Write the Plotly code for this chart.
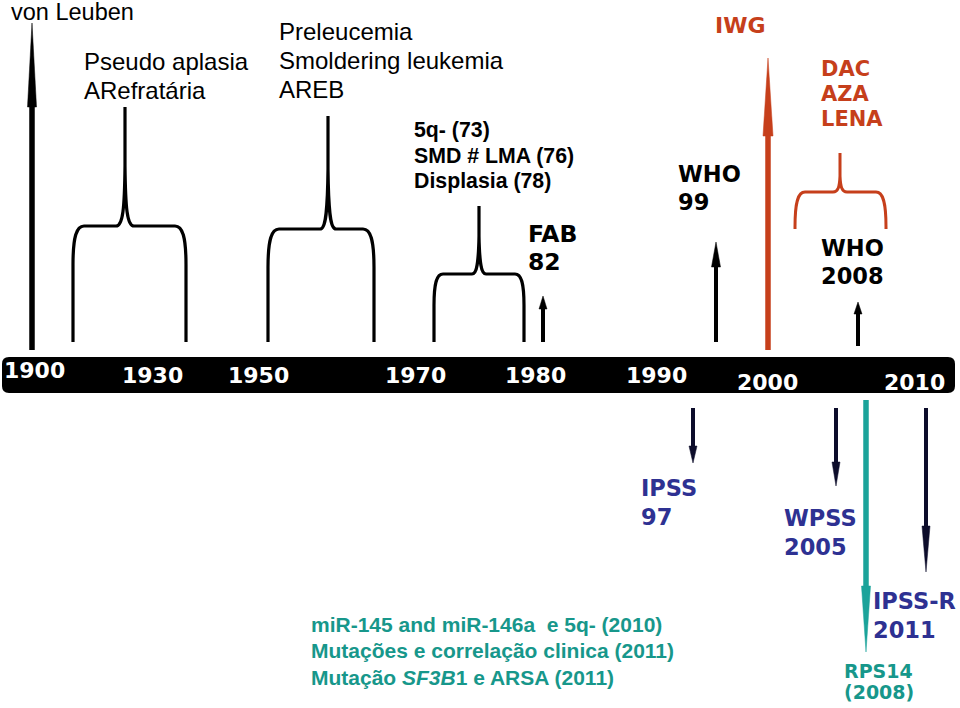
import plotly.graph_objects as go

# ---------------- data ----------------
timeline_years = ["1900", "1930", "1950", "1970", "1980", "1990", "2000", "2010"]

era_labels = [
    ["Pseudo aplasia", "ARefratária"],
    ["Preleucemia", "Smoldering leukemia", "AREB"],
    ["5q- (73)", "SMD # LMA (76)", "Displasia (78)"],
]

up_events = ["von Leuben", "FAB 82", "WHO 99", "IWG", "WHO 2008"]
therapy_labels = ["DAC", "AZA", "LENA"]

down_events = ["IPSS 97", "WPSS 2005", "RPS14 (2008)", "IPSS-R 2011"]

molecular_labels = [
    "miR-145 and miR-146a  e 5q- (2010)",
    "Mutações e correlação clinica (2011)",
    "Mutação <i>SF3B</i>1 e ARSA (2011)",
]

# ---------------- layout (pixel positions / styles) ----------------
W, H = 960, 708
year_x = [34, 152, 258, 415, 535, 656, 767, 914]
year_y = [370, 375.5, 375.5, 375.5, 375.5, 375.5, 382, 382]

# brackets: left, right, peak x, shoulder y, top y
br_left = [73, 268, 434]
br_right = [186, 374, 524]
br_peak = [125, 328, 479]
br_shoulder = [226, 229, 274]
br_top = [107, 116, 206]
br_bottom = 342

BLACK = "#000000"
RED = "#c63f1b"
NAVY = "#2e3192"
DARK = "#0d0d2b"
TEAL_T = "#17978b"
TEAL_A = "#1ba39a"

fig = go.Figure()
shapes = []
annos = []


def arrow(x, y_tail, y_tip, head_len, head_w, shaft_w, color):
    d = 1 if y_tip > y_tail else -1
    base = y_tip - d * head_len
    shapes.append(dict(type="line", x0=x, x1=x, y0=y_tail, y1=base + d * 2,
                       line=dict(color=color, width=shaft_w), layer="above"))
    shapes.append(dict(type="path",
                       path=f"M {x - head_w / 2},{base} L {x + head_w / 2},{base} L {x},{y_tip} Z",
                       fillcolor=color, line=dict(color=color, width=0.5), layer="above"))


def bracket(L, R, P, Hs, T, B, corner, cusp_h, cusp_w, color, width):
    path = (f"M {L},{B} L {L},{Hs + corner * 3.5} "
            f"C {L},{Hs + corner} {L + corner * 0.3},{Hs} {L + corner},{Hs} "
            f"L {P - cusp_w},{Hs} "
            f"C {P - 2},{Hs} {P - 0.5},{Hs - cusp_h * 0.3} {P},{Hs - cusp_h} "
            f"L {P},{T} L {P},{Hs - cusp_h} "
            f"C {P + 0.5},{Hs - cusp_h * 0.3} {P + 2},{Hs} {P + cusp_w},{Hs} "
            f"L {R - corner},{Hs} "
            f"C {R - corner * 0.3},{Hs} {R},{Hs + corner} {R},{Hs + corner * 3.5} "
            f"L {R},{B}")
    shapes.append(dict(type="path", path=path, line=dict(color=color, width=width),
                       fillcolor="rgba(0,0,0,0)"))


def text(x, y, s, size, color, family="Liberation Sans", bold=False, anchor="left"):
    if bold:
        s = f"<b>{s}</b>"
    annos.append(dict(x=x, y=y, text=s, showarrow=False, xanchor=anchor, yanchor="middle",
                      font=dict(size=size, color=color, family=family), xref="x", yref="y"))


HEAVY = "DejaVu Sans"

# timeline bar
x0, x1, y0, y1, r = 2, 955, 357, 393, 7
shapes.append(dict(type="path",
                   path=(f"M {x0 + r},{y0} L {x1 - r},{y0} Q {x1},{y0} {x1},{y0 + r} "
                         f"L {x1},{y1 - r} Q {x1},{y1} {x1 - r},{y1} L {x0 + r},{y1} "
                         f"Q {x0},{y1} {x0},{y1 - r} L {x0},{y0 + r} Q {x0},{y0} {x0 + r},{y0} Z"),
                   fillcolor=BLACK, line=dict(color=BLACK, width=0)))
for yr, xx, yy in zip(timeline_years, year_x, year_y):
    text(xx, yy, yr, 22, "white", family=HEAVY, bold=True, anchor="center")

# era brackets
cfg = [(11, 60, 9), (11, 60, 8), (9, 38, 7)]
for i in range(3):
    c, ch, cw = cfg[i]
    bracket(br_left[i], br_right[i], br_peak[i], br_shoulder[i], br_top[i], br_bottom,
            c, ch, cw, BLACK, 3.2)

# era labels
text(82, 61, era_labels[0][0], 24, BLACK)
text(82, 90, era_labels[0][1], 24, BLACK)
for k, yy in enumerate([31, 60, 89]):
    text(277, yy, era_labels[1][k], 24, BLACK)
for k, yy in enumerate([130, 156, 181]):
    text(412, yy, era_labels[2][k], 21.3, BLACK, bold=True)

# up arrows
arrow(32, 350, 23, 84, 9, 5.5, BLACK)          # von Leuben
text(9, 12, up_events[0], 23.5, BLACK)
arrow(543, 342, 296, 13, 8, 4, BLACK)           # FAB 82
text(526, 234, "FAB", 23.5, BLACK, family=HEAVY, bold=True)
text(526, 262, "82", 23.5, BLACK, family=HEAVY, bold=True)
arrow(716, 342, 242, 25, 9, 4, BLACK)           # WHO 99
text(676, 174, "WHO", 22.5, BLACK, family=HEAVY, bold=True)
text(676, 202, "99", 22.5, BLACK, family=HEAVY, bold=True)
arrow(768, 350, 58, 78, 10, 5.5, RED)           # IWG
text(713, 25, up_events[3], 22, RED, family=HEAVY, bold=True)
arrow(858, 346, 302, 12, 8, 4, BLACK)           # WHO 2008
text(819, 248, "WHO", 22.5, BLACK, family=HEAVY, bold=True)
text(819, 276, "2008", 22.5, BLACK, family=HEAVY, bold=True)

# therapies brace
bracket(795, 886, 840, 192, 153, 229, 10, 16, 7, RED, 3)
for k, yy in enumerate([69, 94, 119]):
    text(819, yy, therapy_labels[k], 21, RED, family=HEAVY, bold=True)

# down arrows
arrow(693, 408, 463, 17, 8, 4, DARK)            # IPSS 97
text(639, 488, "IPSS", 22.5, NAVY, family=HEAVY, bold=True)
text(639, 517, "97", 22.5, NAVY, family=HEAVY, bold=True)
arrow(836, 408, 486, 24, 8, 4, DARK)            # WPSS
text(782, 518, "WPSS", 22.5, NAVY, family=HEAVY, bold=True)
text(782, 547, "2005", 22.5, NAVY, family=HEAVY, bold=True)
arrow(866, 400, 652, 66, 9, 5.5, TEAL_A)        # RPS14
text(842, 671, "RPS14", 19, TEAL_T, family=HEAVY, bold=True)
text(842, 692, "(2008)", 19, TEAL_T, family=HEAVY, bold=True)
arrow(926, 408, 572, 46, 8, 4, DARK)            # IPSS-R
text(871, 601, "IPSS-R", 22.5, NAVY, family=HEAVY, bold=True)
text(871, 630, "2011", 22.5, NAVY, family=HEAVY, bold=True)

# molecular findings
for k, yy in enumerate([624, 650, 677]):
    text(309, yy, molecular_labels[k], 21, TEAL_T, bold=True)

fig.update_layout(
    width=W, height=H,
    margin=dict(l=0, r=0, t=0, b=0),
    paper_bgcolor="white", plot_bgcolor="white",
    xaxis=dict(range=[0, W], visible=False, fixedrange=True),
    yaxis=dict(range=[H, 0], visible=False, fixedrange=True),
    shapes=shapes, annotations=annos, showlegend=False,
)
fig.write_html("out.html", config={"displayModeBar": False},
               post_script="document.body.style.margin='0';document.body.style.overflow='hidden';")
